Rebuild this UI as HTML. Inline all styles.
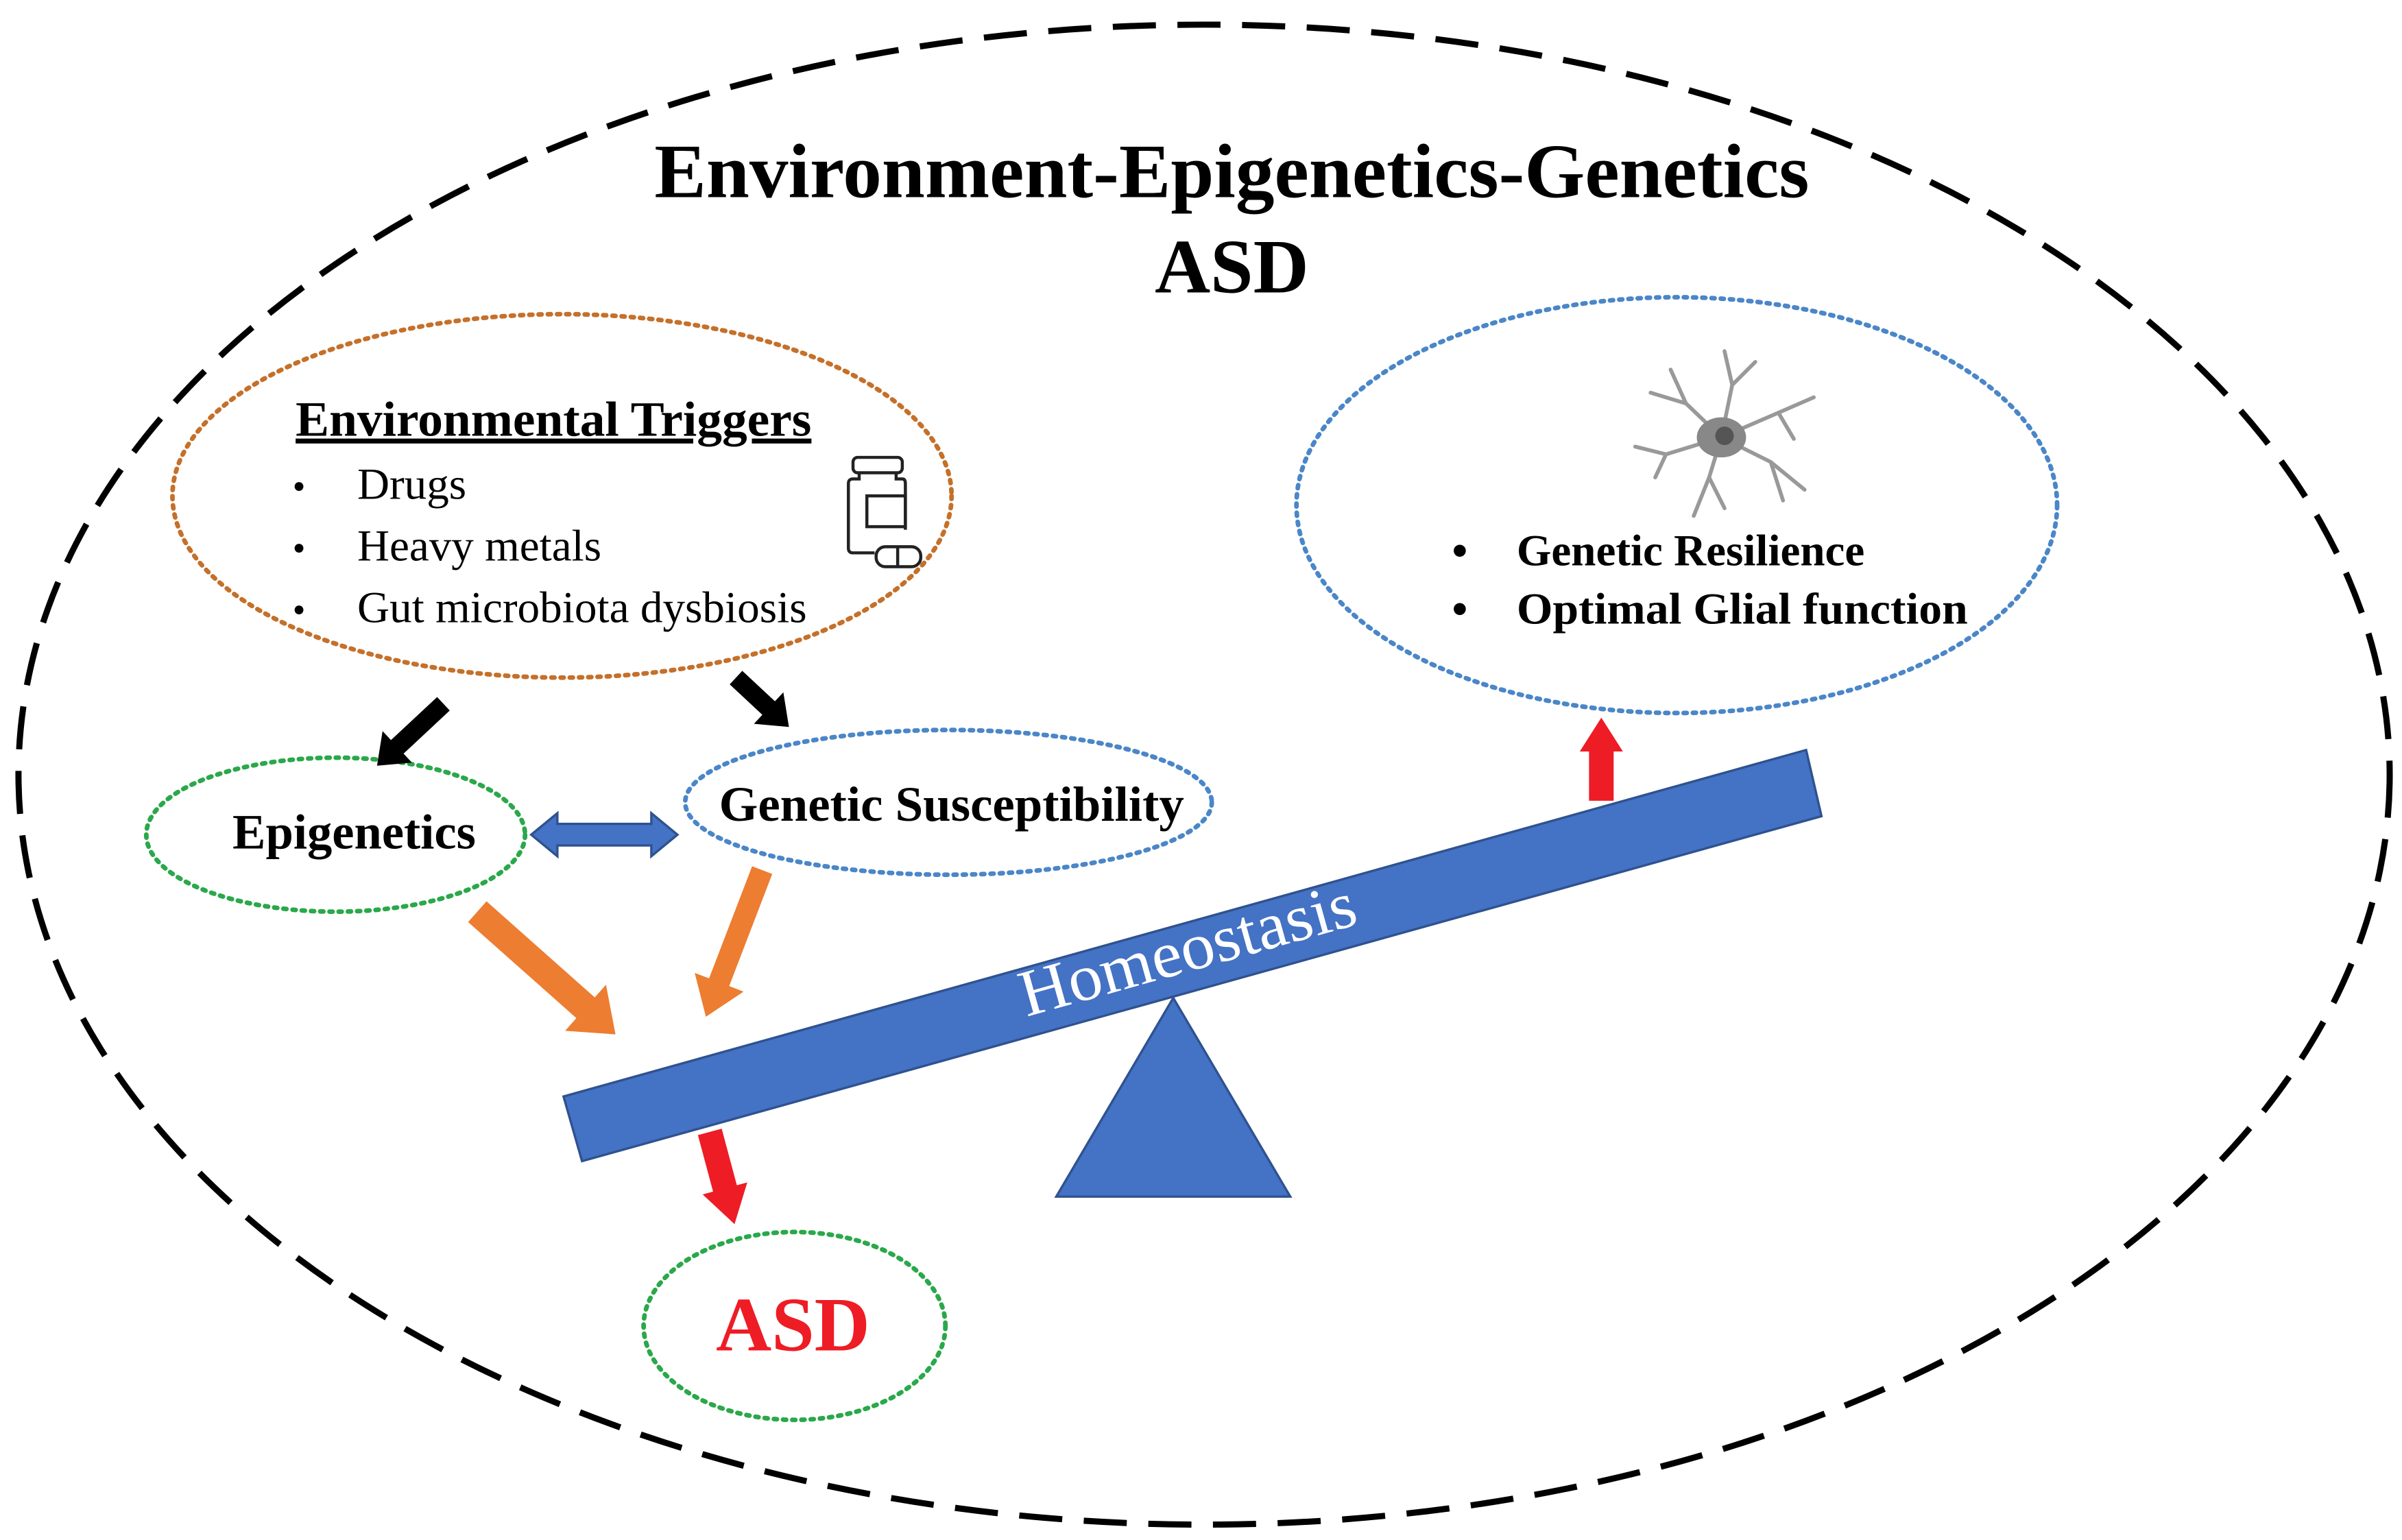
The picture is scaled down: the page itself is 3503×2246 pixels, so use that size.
<!DOCTYPE html>
<html><head><meta charset="utf-8"><style>
html,body{margin:0;padding:0;background:#fff}
svg{display:block}
</style></head><body>
<svg width="3503" height="2246" viewBox="0 0 1560 1000" preserveAspectRatio="none" xmlns="http://www.w3.org/2000/svg">
<rect width="1560" height="1000" fill="#fff"/>
<ellipse cx="782" cy="503" rx="770" ry="487" fill="none" stroke="#000" stroke-width="4" stroke-dasharray="28 14"/>
<g font-family="Liberation Serif, serif" font-weight="bold" text-anchor="middle" fill="#000">
<text x="800" y="128" font-size="50" textLength="750" lengthAdjust="spacingAndGlyphs">Environment-Epigenetics-Genetics</text>
<text x="800" y="190" font-size="50">ASD</text>
</g>
<!-- env triggers -->
<ellipse cx="365" cy="322" rx="253" ry="118" fill="none" stroke="#c5702a" stroke-width="3" stroke-dasharray="2 4" stroke-linecap="round"/>
<g font-family="Liberation Serif, serif" fill="#000">
<text x="192" y="283" font-size="32" font-weight="bold" text-decoration="underline" textLength="335" lengthAdjust="spacingAndGlyphs">Environmental Triggers</text>
<text x="190" y="324" font-size="24">•</text><text x="232" y="324" font-size="29">Drugs</text>
<text x="190" y="364" font-size="24">•</text><text x="232" y="364" font-size="29">Heavy metals</text>
<text x="190" y="404" font-size="24">•</text><text x="232" y="404" font-size="29" textLength="292" lengthAdjust="spacingAndGlyphs">Gut microbiota dysbiosis</text>
</g>
<g fill="none" stroke="#222" stroke-width="2">
<rect x="554" y="297" width="32" height="10" rx="3"/>
<path d="M558 307 v4 h-4 q-3 0 -3 3 v42 q0 3 3 3 h14 M582 307 v4 h4 q2 0 2 3 v30"/>
<rect x="563" y="322" width="25" height="20"/>
<rect x="569" y="355" width="29" height="13" rx="6"/>
<line x1="583" y1="355" x2="583" y2="368"/>
</g>
<!-- right ellipse -->
<ellipse cx="1089" cy="328" rx="247" ry="135" fill="none" stroke="#4a86c8" stroke-width="3" stroke-dasharray="2 4" stroke-linecap="round"/>
<g stroke="#999" stroke-width="2.5" fill="none" stroke-linecap="round">
<path d="M1118 284 L1095 262 L1085 240 M1095 262 L1072 255 M1118 284 L1125 250 L1120 228 M1125 250 L1140 235 M1118 284 L1155 268 L1178 258 M1155 268 L1165 285 M1118 284 L1150 300 L1172 318 M1150 300 L1158 325 M1118 284 L1110 310 L1100 335 M1110 310 L1120 330 M1118 284 L1082 295 L1062 290 M1082 295 L1075 310"/>
</g>
<ellipse cx="1118" cy="284" rx="16" ry="13" fill="#888"/>
<circle cx="1120" cy="283" r="6" fill="#555"/>
<g font-family="Liberation Serif, serif" font-weight="bold" fill="#000" font-size="29">
<text x="943" y="367">•</text><text x="985" y="367" textLength="226" lengthAdjust="spacingAndGlyphs">Genetic Resilience</text>
<text x="943" y="405">•</text><text x="985" y="405" textLength="293" lengthAdjust="spacingAndGlyphs">Optimal Glial function</text>
</g>
<!-- epigenetics -->
<ellipse cx="218" cy="542" rx="123" ry="50" fill="none" stroke="#2aa84a" stroke-width="3" stroke-dasharray="2 4" stroke-linecap="round"/>
<ellipse cx="616" cy="521" rx="171" ry="47" fill="none" stroke="#4a86c8" stroke-width="3" stroke-dasharray="2 4" stroke-linecap="round"/>
<g font-family="Liberation Serif, serif" font-weight="bold" fill="#000" font-size="32">
<text x="151" y="551" textLength="158" lengthAdjust="spacingAndGlyphs">Epigenetics</text>
<text x="467" y="533" textLength="302" lengthAdjust="spacingAndGlyphs">Genetic Susceptibility</text>
</g>
<polygon points="345,542 362,528 362,535 423,535 423,528 440,542 423,556 423,549 362,549 362,556" fill="#4472c4" stroke="#2f528f" stroke-width="1.5"/>
<!-- arrows -->
<g fill="#000">
<polygon transform="translate(288,457) rotate(137)" points="0,-6 41,-6 41,-14 59,0 41,14 41,6 0,6"/>
<polygon transform="translate(478,440) rotate(43)" points="0,-6 29,-6 29,-14 47,0 29,14 29,6 0,6"/>
</g>
<g fill="#ed7d31">
<polygon transform="translate(310,592) rotate(41.6)" points="0,-9 94,-9 94,-20 120,0 94,20 94,9 0,9"/>
<polygon transform="translate(495,565) rotate(111)" points="0,-7 78,-7 78,-17 102,0 78,17 78,7 0,7"/>
</g>
<g fill="#ee1c25">
<polygon transform="translate(1040,520) rotate(-90)" points="0,-8 32,-8 32,-14 54,0 32,14 32,8 0,8"/>
<polygon transform="translate(461,735) rotate(75)" points="0,-8 38,-8 38,-15 62,0 38,15 38,8 0,8"/>
</g>
<!-- seesaw -->
<polygon points="762,648 686,777 838,777" fill="#4472c4" stroke="#2f528f" stroke-width="1.5"/>
<polygon points="366,712 1173,487 1183,530 378,754" fill="#4472c4" stroke="#2f528f" stroke-width="1.5"/>
<text transform="translate(775,630) rotate(-15.6)" text-anchor="middle" font-family="Liberation Serif, serif" font-size="43" fill="#fff" textLength="225" lengthAdjust="spacingAndGlyphs">Homeostasis</text>
<!-- ASD -->
<ellipse cx="516" cy="861" rx="98" ry="61" fill="none" stroke="#2aa84a" stroke-width="3" stroke-dasharray="2 4" stroke-linecap="round"/>
<text x="515" y="877" text-anchor="middle" font-family="Liberation Serif, serif" font-weight="bold" font-size="50" fill="#ee1c25" textLength="100" lengthAdjust="spacingAndGlyphs">ASD</text>
</svg>
</body></html>
